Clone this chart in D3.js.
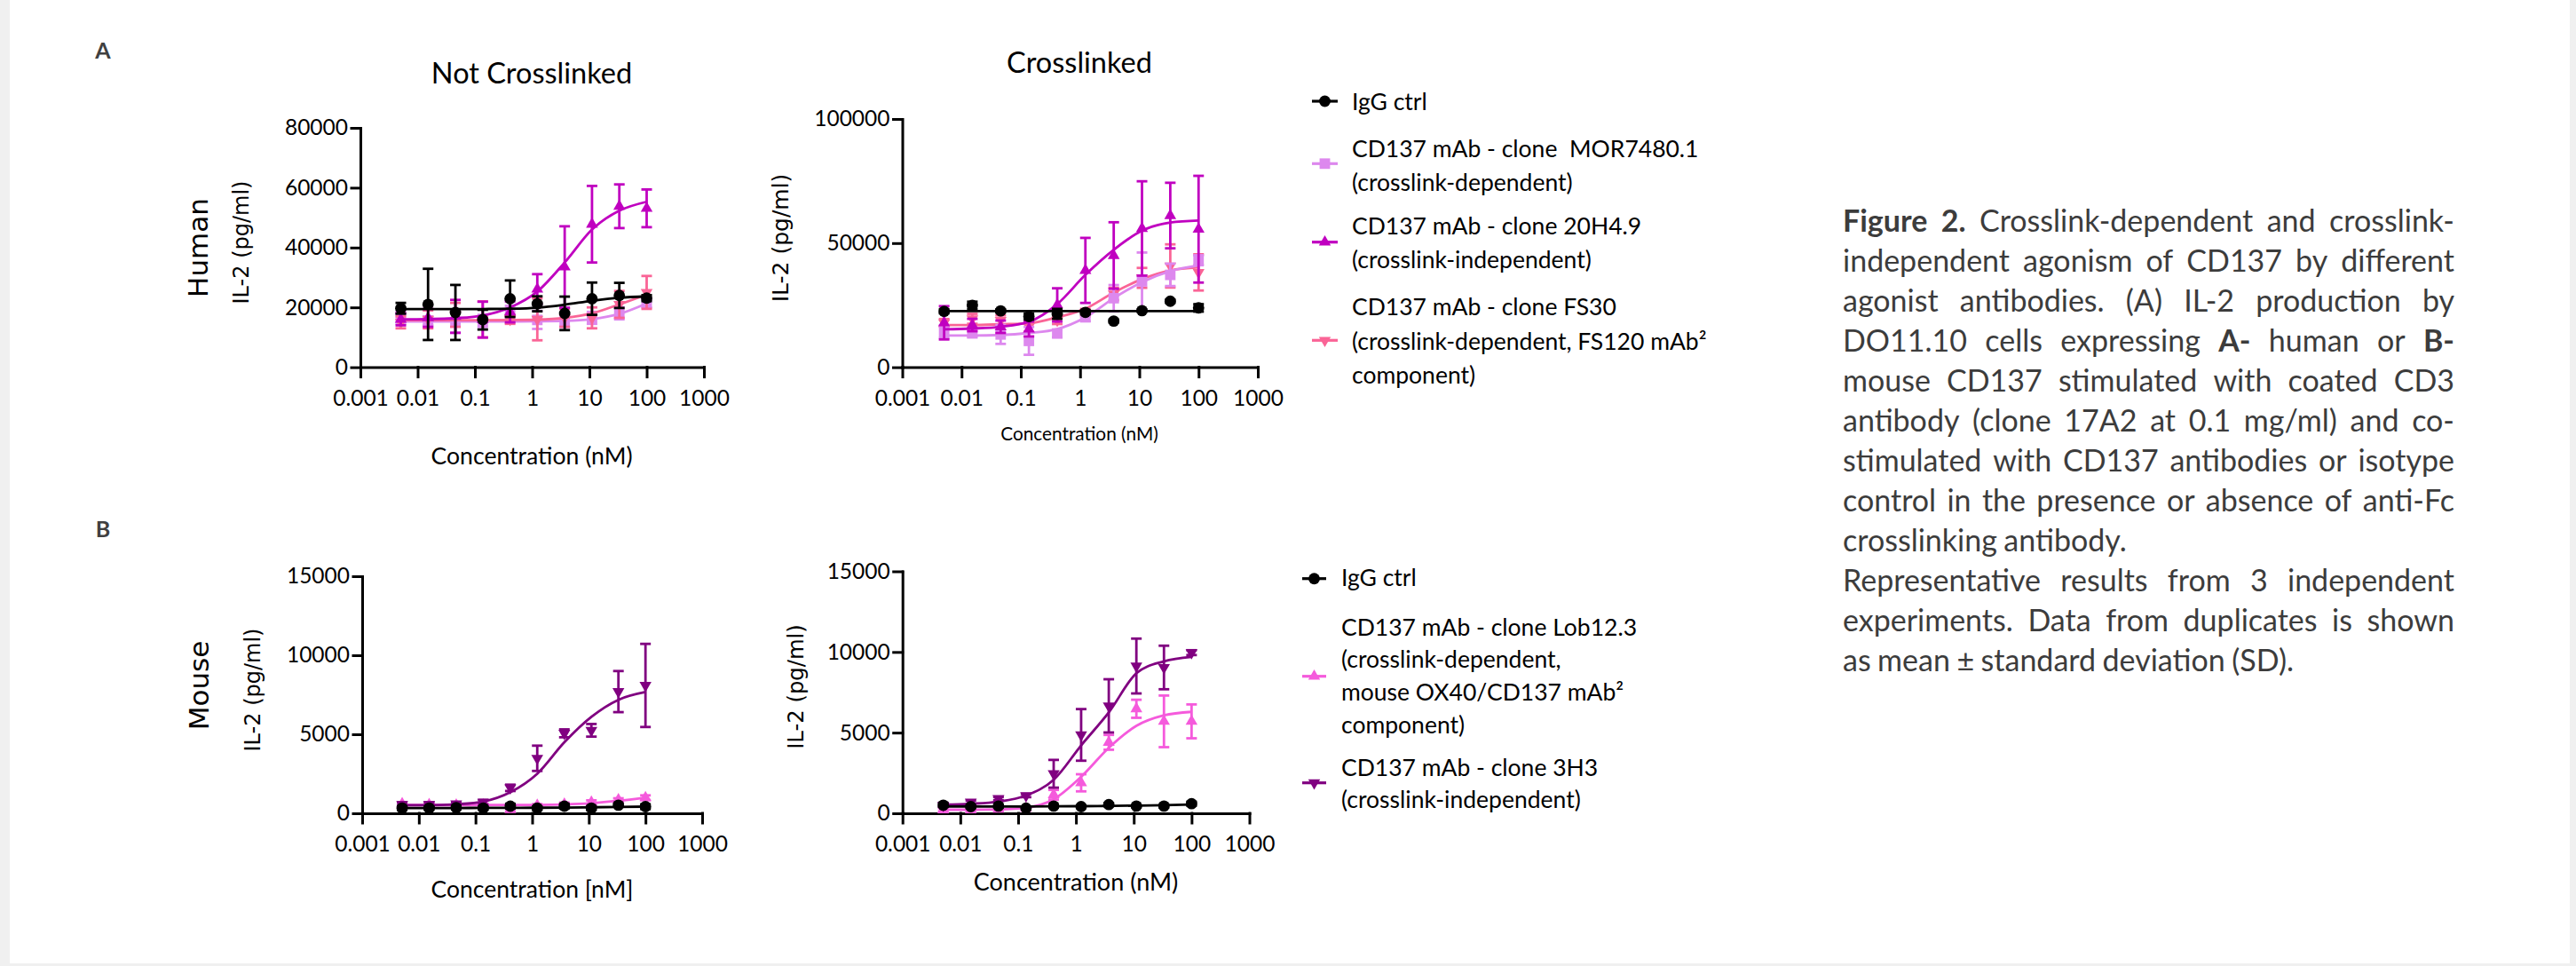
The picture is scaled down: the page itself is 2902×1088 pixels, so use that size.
<!DOCTYPE html>
<html>
<head>
<meta charset="utf-8">
<title>Figure 2 - CD137 agonism</title>
<script src="https://d3js.org/d3.v7.min.js"></script>
<style>
body { margin: 0; background: #f0f0f0; }
svg { display: block; }
</style>
</head>
<body>
<svg id="fig"></svg>
<script>

// 3-fold dilution series (nM)
var conc = [0.00508, 0.0152, 0.0457, 0.137, 0.412, 1.23, 3.70, 11.1, 33.3, 100];
var xTickVals = [0.001, 0.01, 0.1, 1, 10, 100, 1000];
var xTickLabels = ["0.001", "0.01", "0.1", "1", "10", "100", "1000"];

// A - human, not crosslinked
var hn_igg      = [19700, 21000, 18300, 15900, 22900, 21200, 18000, 22900, 24000, 23100];
var hn_igg_sd   = [1800, 11900, 9200, 3300, 6100, 2500, 5600, 5400, 4200, 1000];
var hn_igg_fit  = [19400, 19400, 19400, 19450, 19550, 19900, 20900, 22200, 23200, 23700];
var hn_mor      = [16500, 15500, 15000, 15500, 18000, 15800, 15500, 16500, 18000, 21500];
var hn_mor_sd   = [2000, 1500, 3500, 2000, 2500, 3000, 2000, 2000, 2000, 1500];
var hn_mor_fit  = [15300, 15300, 15300, 15300, 15300, 15350, 15500, 16100, 17800, 21300];
var hn_fs30     = [15000, 16000, 17500, 16000, 16000, 16000, 16500, 16500, 21000, 25000];
var hn_fs30_sd  = [2000, 3000, 4000, 6000, 1500, 7000, 3000, 3500, 4500, 5500];
var hn_fs30_fit = [15700, 15700, 15700, 15700, 15750, 15900, 16500, 18000, 21000, 24300];
var hn_20h      = [16000, 16500, 17000, 15900, 18500, 26100, 33500, 47800, 53800, 53100];
var hn_20h_sd   = [2000, 3000, 5500, 6000, 3500, 5000, 13600, 12800, 7300, 6300];
var hn_20h_fit  = [16000, 16100, 16400, 17300, 20000, 25300, 35000, 46000, 52300, 55300];

// A - human, crosslinked
var hx_igg      = [22500, 24900, 22700, 20400, 21500, 22100, 18600, 22800, 26600, 23900];
var hx_igg_sd   = [800, 1500, 600, 1200, 2000, 800, 600, 500, 600, 1500];
var hx_igg_fit  = [22600, 22600, 22600, 22600, 22600, 22600, 22600, 22600, 22600, 22600];
var hx_mor      = [14400, 14000, 13200, 10600, 13600, 20100, 27800, 34600, 37200, 43100];
var hx_mor_sd   = [2500, 2000, 3800, 5600, 1500, 1500, 5300, 11600, 4500, 2000];
var hx_mor_fit  = [12800, 12800, 13000, 13800, 15400, 20100, 27800, 34300, 38700, 41000];
var hx_fs30     = [17900, 19500, 18900, 16300, 18900, 22000, 29500, 36000, 40800, 38200];
var hx_fs30_sd  = [1500, 2000, 2000, 2000, 1500, 1500, 2500, 4000, 8700, 7300];
var hx_fs30_fit = [17000, 17000, 17300, 17700, 20100, 23600, 30100, 35500, 39000, 40200];
var hx_20h      = [17900, 17000, 16300, 15400, 25100, 39000, 45000, 55900, 61100, 55600];
var hx_20h_sd   = [6700, 2500, 2500, 3000, 6700, 13100, 13400, 19000, 13200, 21500];
var hx_20h_fit  = [15300, 15600, 16300, 18300, 25400, 37200, 47300, 55000, 58300, 59100];

// B - mouse, not crosslinked
var mn_igg      = [330, 330, 360, 330, 450, 330, 450, 330, 510, 420];
var mn_igg_sd   = [120, 100, 120, 100, 150, 100, 150, 120, 100, 150];
var mn_igg_fit  = [330, 330, 335, 340, 345, 350, 360, 380, 400, 420];
var mn_lob      = [600, 550, 520, 520, 230, 500, 580, 700, 850, 985];
var mn_lob_sd   = [100, 100, 80, 100, 100, 80, 100, 120, 100, 150];
var mn_lob_fit  = [520, 520, 520, 520, 525, 530, 560, 640, 790, 990];
var mn_3h3      = [570, 570, 600, 700, 1610, 3480, 5060, 5250, 7700, 8090];
var mn_3h3_sd   = [100, 100, 100, 150, 200, 800, 250, 400, 1300, 2630];
var mn_3h3_fit  = [510, 510, 570, 740, 1330, 2500, 4490, 6100, 7180, 7670];

// B - mouse, crosslinked
var mx_igg      = [500, 410, 445, 315, 445, 410, 540, 445, 445, 595];
var mx_igg_sd   = [100, 80, 100, 80, 100, 80, 100, 80, 100, 120];
var mx_igg_fit  = [420, 420, 420, 425, 430, 440, 455, 475, 500, 540];
var mx_lob      = [220, 220, 260, 315, 1150, 1890, 4400, 6480, 5700, 5700];
var mx_lob_sd   = [100, 100, 100, 100, 300, 530, 460, 560, 1600, 1050];
var mx_lob_fit  = [220, 220, 240, 350, 870, 2260, 4060, 5420, 6070, 6290];
var mx_3h3      = [500, 690, 910, 1100, 2450, 4860, 6660, 9130, 9040, 9960];
var mx_3h3_sd   = [100, 100, 100, 100, 860, 1600, 1650, 1700, 1350, 150];
var mx_3h3_fit  = [540, 590, 720, 1100, 2080, 4210, 6250, 8680, 9420, 9690];

var legendHuman = [
  ["IgG ctrl"],
  ["CD137 mAb - clone  MOR7480.1", "(crosslink-dependent)"],
  ["CD137 mAb - clone 20H4.9", "(crosslink-independent)"],
  ["CD137 mAb - clone FS30", "(crosslink-dependent, FS120 mAb\u00b2", "component)"]
];
var legendMouse = [
  ["IgG ctrl"],
  ["CD137 mAb - clone Lob12.3", "(crosslink-dependent,", "mouse OX40/CD137 mAb\u00b2", "component)"],
  ["CD137 mAb - clone 3H3", "(crosslink-independent)"]
];

var captionLines = [
  {j: true,  s: [["Figure 2.", 1], ["Crosslink-dependent and crosslink-", 0]]},
  {j: true,  s: [["independent agonism of CD137 by different", 0]]},
  {j: true,  s: [["agonist antibodies. (A) IL-2 production by", 0]]},
  {j: true,  s: [["DO11.10 cells expressing", 0], ["A-", 1], ["human or", 0], ["B-", 1]]},
  {j: true,  s: [["mouse CD137 stimulated with coated CD3", 0]]},
  {j: true,  s: [["antibody (clone 17A2 at 0.1 mg/ml) and co-", 0]]},
  {j: true,  s: [["stimulated with CD137 antibodies or isotype", 0]]},
  {j: true,  s: [["control in the presence or absence of anti-Fc", 0]]},
  {j: false, s: [["crosslinking antibody.", 0]]},
  {j: true,  s: [["Representative results from 3 independent", 0]]},
  {j: true,  s: [["experiments. Data from duplicates is shown", 0]]},
  {j: false, s: [["as mean \u00b1 standard deviation (SD).", 0]]}
];

var C_IGG = "#000000", C_MOR = "#dd88ee", C_20H = "#c000c0", C_FS30 = "#fa6496",
    C_LOB = "#f55adc", C_3H3 = "#800080";

var W = 2902, H = 1088;
var svg = d3.select("#fig").attr("width", W).attr("height", H);
svg.append("rect").attr("width", W).attr("height", H).attr("fill", "#f0f0f0");
svg.append("rect").attr("x", 11).attr("y", 0).attr("width", 2884).attr("height", 1085).attr("fill", "#fff");

function symPath(shape) {
  if (shape == "circle") return d3.symbol(d3.symbolCircle, 130)();
  if (shape == "square") return d3.symbol(d3.symbolSquare, 140)();
  return d3.symbol(d3.symbolTriangle, 78)();
}
function symTransform(shape, px, py) {
  return "translate(" + px + "," + py + ")" + (shape == "down" ? " rotate(180)" : "");
}

function drawPanel(p, series) {
  var x = d3.scaleLog().domain([0.001, 1000]).range([p.x0, p.x1]);
  var y = d3.scaleLinear().domain([0, p.ymax]).range([p.y0, p.y1]);
  var g = svg.append("g");

  var ya = g.append("g").attr("transform", "translate(" + p.x0 + ",0)")
    .call(d3.axisLeft(y).tickValues(p.yticks).tickFormat(d3.format("d"))
      .tickSize(10).tickSizeOuter(0).tickPadding(4));
  var xa = g.append("g").attr("transform", "translate(0," + p.y0 + ")")
    .call(d3.axisBottom(x).tickValues(xTickVals).tickFormat(function(d, i) { return xTickLabels[i]; })
      .tickSize(11).tickSizeOuter(0).tickPadding(15));
  [ya, xa].forEach(function(a) {
    a.attr("font-family", "Lato").attr("font-size", 24.5).attr("color", "#000");
    a.selectAll("path, line").attr("stroke-width", 3).attr("stroke-linecap", "square");
  });

  var line = d3.line()
    .x(function(d) { return x(d.c); })
    .y(function(d) { return y(d.f); })
    .curve(d3.curveMonotoneX);

  series.forEach(function(s) {
    var pts = conc.map(function(c, i) { return {c: c, m: s.mean[i], sd: s.sd[i], f: s.fit[i]}; });
    g.append("path").datum(pts)
      .attr("fill", "none").attr("stroke", s.color).attr("stroke-width", 2.8)
      .attr("d", line);
    var eb = g.append("g").attr("stroke", s.color).attr("stroke-width", 2.8);
    eb.selectAll(".v").data(pts).join("line").attr("class", "v")
      .attr("x1", function(d) { return x(d.c); }).attr("x2", function(d) { return x(d.c); })
      .attr("y1", function(d) { return y(d.m - d.sd); }).attr("y2", function(d) { return y(d.m + d.sd); });
    eb.selectAll(".t").data(pts).join("line").attr("class", "t")
      .attr("x1", function(d) { return x(d.c) - 6; }).attr("x2", function(d) { return x(d.c) + 6; })
      .attr("y1", function(d) { return y(d.m + d.sd); }).attr("y2", function(d) { return y(d.m + d.sd); });
    eb.selectAll(".b").data(pts).join("line").attr("class", "b")
      .attr("x1", function(d) { return x(d.c) - 6; }).attr("x2", function(d) { return x(d.c) + 6; })
      .attr("y1", function(d) { return y(d.m - d.sd); }).attr("y2", function(d) { return y(d.m - d.sd); });
    g.append("g").selectAll("path").data(pts).join("path")
      .attr("d", symPath(s.shape))
      .attr("transform", function(d) { return symTransform(s.shape, x(d.c), y(d.m)); })
      .attr("fill", s.color);
  });

  // y label
  g.append("text")
    .attr("transform", "translate(" + p.ylx + "," + p.yly + ") rotate(-90)")
    .attr("text-anchor", "middle").attr("font-family", "DejaVu Sans").attr("font-size", p.ylfs)
    .text("IL-2 (pg/ml)");
  // x label
  g.append("text")
    .attr("x", p.xlx).attr("y", p.xly)
    .attr("text-anchor", "middle").attr("font-family", "Lato").attr("font-size", p.xlfs)
    .text(p.xlabel);
}

function drawLegend(lg, labels, shapes, colors) {
  var g = svg.append("g").attr("font-family", "Lato").attr("font-size", 26.5).attr("fill", "#000");
  labels.forEach(function(lines, i) {
    var my = lg.marker[i];
    g.append("line").attr("x1", lg.lx0).attr("x2", lg.lx1).attr("y1", my).attr("y2", my)
      .attr("stroke", colors[i]).attr("stroke-width", 3.2);
    g.append("path").attr("d", symPath(shapes[i]))
      .attr("transform", symTransform(shapes[i], (lg.lx0 + lg.lx1) / 2, my))
      .attr("fill", colors[i]);
    lines.forEach(function(t, k) {
      g.append("text").attr("x", lg.tx).attr("y", lg.first[i] + k * lg.step)
        .style("white-space", "pre").text(t);
    });
  });
}

var humanN = [
  {color: C_MOR, shape: "square", mean: hn_mor, sd: hn_mor_sd, fit: hn_mor_fit},
  {color: C_FS30, shape: "down", mean: hn_fs30, sd: hn_fs30_sd, fit: hn_fs30_fit},
  {color: C_20H, shape: "up", mean: hn_20h, sd: hn_20h_sd, fit: hn_20h_fit},
  {color: C_IGG, shape: "circle", mean: hn_igg, sd: hn_igg_sd, fit: hn_igg_fit}
];
var humanX = [
  {color: C_FS30, shape: "down", mean: hx_fs30, sd: hx_fs30_sd, fit: hx_fs30_fit},
  {color: C_MOR, shape: "square", mean: hx_mor, sd: hx_mor_sd, fit: hx_mor_fit},
  {color: C_20H, shape: "up", mean: hx_20h, sd: hx_20h_sd, fit: hx_20h_fit},
  {color: C_IGG, shape: "circle", mean: hx_igg, sd: hx_igg_sd, fit: hx_igg_fit}
];
var mouseN = [
  {color: C_LOB, shape: "up", mean: mn_lob, sd: mn_lob_sd, fit: mn_lob_fit},
  {color: C_3H3, shape: "down", mean: mn_3h3, sd: mn_3h3_sd, fit: mn_3h3_fit},
  {color: C_IGG, shape: "circle", mean: mn_igg, sd: mn_igg_sd, fit: mn_igg_fit}
];
var mouseX = [
  {color: C_LOB, shape: "up", mean: mx_lob, sd: mx_lob_sd, fit: mx_lob_fit},
  {color: C_3H3, shape: "down", mean: mx_3h3, sd: mx_3h3_sd, fit: mx_3h3_fit},
  {color: C_IGG, shape: "circle", mean: mx_igg, sd: mx_igg_sd, fit: mx_igg_fit}
];

drawPanel({x0: 406, x1: 793, y0: 413.6, y1: 144, ymax: 80000, yticks: [0, 20000, 40000, 60000, 80000],
  ylx: 279.5, yly: 273, ylfs: 24, xlx: 599, xly: 523, xlfs: 26.6, xlabel: "Concentration (nM)"}, humanN);
drawPanel({x0: 1016.5, x1: 1417, y0: 413.6, y1: 134, ymax: 100000, yticks: [0, 50000, 100000],
  ylx: 888, yly: 268, ylfs: 25, xlx: 1216, xly: 496, xlfs: 20.8, xlabel: "Concentration (nM)"}, humanX);
drawPanel({x0: 408, x1: 791, y0: 916, y1: 649, ymax: 15000, yticks: [0, 5000, 10000, 15000],
  ylx: 292.5, yly: 777, ylfs: 24, xlx: 599.5, xly: 1011, xlfs: 26.5, xlabel: "Concentration [nM]"}, mouseN);
drawPanel({x0: 1016.7, x1: 1407.5, y0: 916, y1: 643.5, ymax: 15000, yticks: [0, 5000, 10000, 15000],
  ylx: 904.5, yly: 773.5, ylfs: 24.3, xlx: 1212, xly: 1003, xlfs: 27, xlabel: "Concentration (nM)"}, mouseX);

// column titles
svg.append("text").attr("x", 599).attr("y", 93.5).attr("text-anchor", "middle")
  .attr("font-family", "Lato").attr("font-size", 32.5).text("Not Crosslinked");
svg.append("text").attr("x", 1216).attr("y", 82).attr("text-anchor", "middle")
  .attr("font-family", "Lato").attr("font-size", 32.5).text("Crosslinked");

// row labels
svg.append("text").attr("transform", "translate(234,279) rotate(-90)").attr("text-anchor", "middle")
  .attr("font-family", "DejaVu Sans").attr("font-size", 31).text("Human");
svg.append("text").attr("transform", "translate(235,772) rotate(-90)").attr("text-anchor", "middle")
  .attr("font-family", "DejaVu Sans").attr("font-size", 31).text("Mouse");

// panel letters
svg.append("text").attr("x", 116).attr("y", 66).attr("text-anchor", "middle")
  .attr("font-family", "Lato").attr("font-weight", 700).attr("font-size", 25).attr("fill", "#404040").text("A");
svg.append("text").attr("x", 116).attr("y", 604.5).attr("text-anchor", "middle")
  .attr("font-family", "Lato").attr("font-weight", 700).attr("font-size", 25).attr("fill", "#404040").text("B");

drawLegend({lx0: 1478, lx1: 1507, tx: 1523, step: 38.3,
  marker: [114, 184.3, 272.7, 383.3], first: [123.5, 176.5, 263.5, 355.2]},
  legendHuman, ["circle", "square", "up", "down"], [C_IGG, C_MOR, C_20H, C_FS30]);
drawLegend({lx0: 1467, lx1: 1494, tx: 1511, step: 36.7,
  marker: [651.7, 761.7, 881.7], first: [660.2, 715.5, 873.5]},
  legendMouse, ["circle", "up", "down"], [C_IGG, C_LOB, C_3H3]);

// caption, justified by hand
var capX = 2076, capW = 689, capY = 261, capStep = 45, capFs = 34;
var cap = svg.append("g").attr("font-family", "Lato").attr("font-size", capFs).attr("fill", "#3c3c3c");
captionLines.forEach(function(line, i) {
  var words = [];
  line.s.forEach(function(seg) {
    seg[0].split(" ").forEach(function(w) { words.push({t: w, b: seg[1]}); });
  });
  var yy = capY + i * capStep;
  var nodes = words.map(function(w) {
    return cap.append("text").attr("y", yy).attr("font-weight", w.b ? 700 : 400).text(w.t);
  });
  var widths = nodes.map(function(n) { return n.node().getComputedTextLength(); });
  var gap = line.j ? (capW - d3.sum(widths)) / (words.length - 1) : capFs * 0.22;
  var xx = capX;
  nodes.forEach(function(n, k) { n.attr("x", xx); xx += widths[k] + gap; });
});

</script>
</body>
</html>
